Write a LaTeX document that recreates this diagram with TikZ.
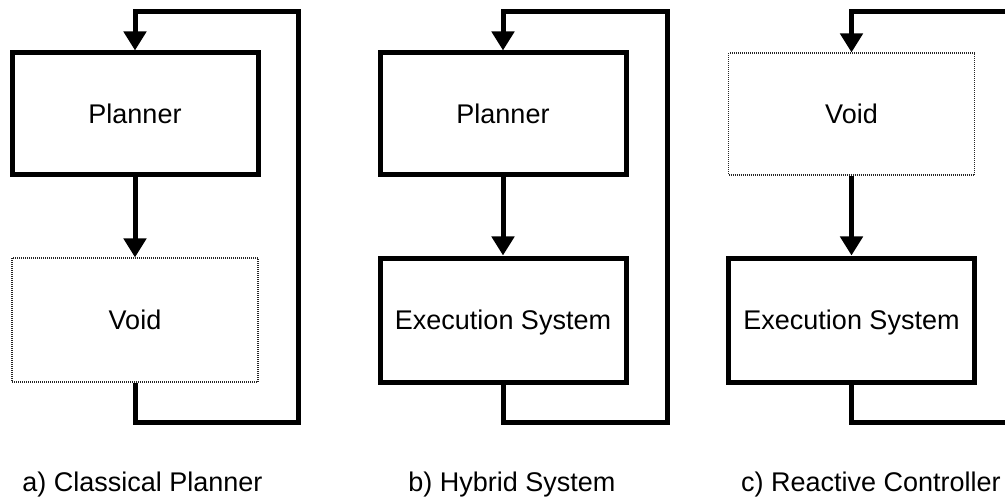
\documentclass[tikz,border=0pt]{standalone}
\usepackage{fontspec}
\setmainfont{Liberation Sans}
\usetikzlibrary{arrows.meta}
\begin{document}
\begin{tikzpicture}[x=1pt,y=-1pt,
  every node/.style={font=\fontsize{27}{32}\selectfont},
  solidbox/.style={draw=black, line width=5pt, minimum width=246pt, minimum height=122pt, inner sep=0pt, text height=19.3pt, text depth=0pt, fill=white},
  voidbox/.style={draw=black!85, line width=1.1pt, dash pattern=on 1pt off 1pt, minimum width=246pt, minimum height=124pt, inner sep=0pt, text height=19.3pt, text depth=0pt},
  flow/.style={line width=5pt, line join=miter, -{Triangle[length=19pt,width=22pt]}},
  caption/.style={anchor=base, inner sep=0pt}
]
\useasboundingbox (0,0) rectangle (1005,500);
\clip (0,0) rectangle (1005,500);

% panel a
\node[solidbox] (ap) at (135,114) {Planner};
\node[voidbox]  (av) at (135,320) {Void};
\coordinate (ar) at (298,422);
\coordinate (at) at (298,12);
\draw[flow] (ap.south) -- (av.north);
\draw[flow] (av.south) |- (ar) -- (at) -| (ap.north);
\node[caption] (al) at (142.5,491) {a) Classical Planner};

% panel b
\node[solidbox] (bp) at (503,114) {Planner};
\node[solidbox, minimum height=124pt] (be) at (503,320) {Execution System};
\coordinate (br) at (667,422);
\coordinate (bt) at (667,12);
\draw[flow] (bp.south) -- (be.north);
\draw[flow] (be.south) |- (br) -- (bt) -| (bp.north);
\node[caption] (bl) at (512,491) {b) Hybrid System};

% panel c
\node[voidbox, minimum height=122pt] (cv) at (851.5,114) {Void};
\node[solidbox, minimum height=124pt] (ce) at (851.5,320) {Execution System};
\coordinate (cr) at (1016,422);
\coordinate (ct) at (1016,12);
\draw[flow] (cv.south) -- (ce.north);
\draw[flow] (ce.south) |- (cr) -- (ct) -| (cv.north);
\node[caption] (cl) at (871,491) {c) Reactive Controller};
\end{tikzpicture}
\end{document}
